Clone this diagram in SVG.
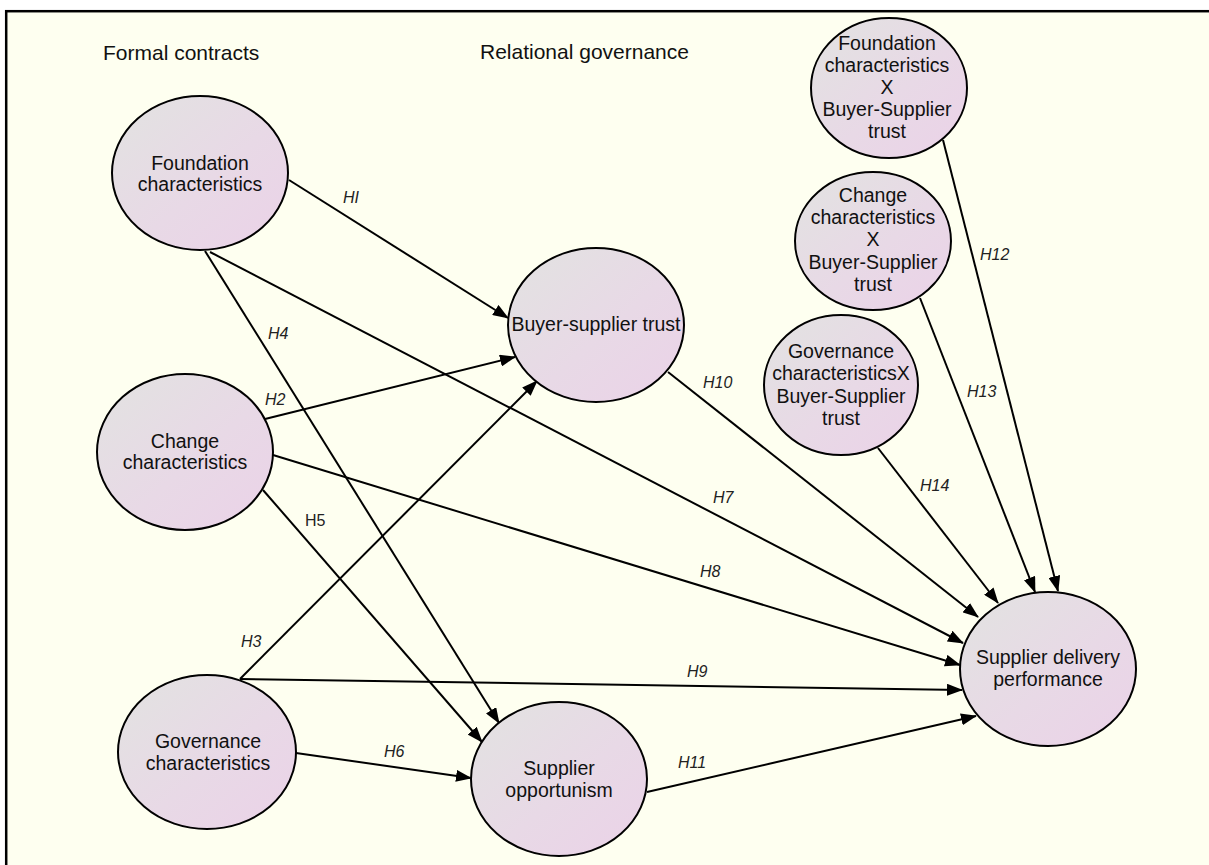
<svg xmlns="http://www.w3.org/2000/svg" width="1209" height="865" viewBox="0 0 1209 865">
<defs>
<linearGradient id="nodeFill" x1="0" y1="0" x2="1" y2="1">
<stop offset="0" stop-color="#e2e3e1"/>
<stop offset="0.55" stop-color="#e8d9e6"/>
<stop offset="1" stop-color="#ebd2e8"/>
</linearGradient>
<marker id="arrow" markerUnits="userSpaceOnUse" viewBox="0 0 16 12" markerWidth="16" markerHeight="12" refX="15" refY="6" orient="auto">
<path d="M0,0 L16,6 L0,12 z" fill="#000"/>
</marker>
<style>
.node ellipse{fill:url(#nodeFill);stroke:#000;stroke-width:2}
.node text{font-family:"Liberation Sans",Arial,sans-serif;font-size:19.5px;fill:#111;text-anchor:middle}
.head{font-family:"Liberation Sans",Arial,sans-serif;font-size:21px;fill:#111}
.edge line{stroke:#000;stroke-width:2;marker-end:url(#arrow)}
.lbl{font-family:"Liberation Sans",Arial,sans-serif;font-size:16px;font-style:italic;fill:#222}
.lbl.up{font-style:normal}
</style>
</defs>
<rect x="0" y="0" width="1209" height="865" fill="#ffffff"/>
<rect x="6.2" y="11.2" width="1220" height="870" fill="#fefff0" stroke="#000" stroke-width="2.5"/>
<text class="head" x="103" y="60">Formal contracts</text>
<text class="head" x="480" y="59">Relational governance</text>
<g id="connectors" class="edge">
<line x1="289" y1="180" x2="508" y2="318"/>
<line x1="265" y1="419" x2="515" y2="357"/>
<line x1="240" y1="679" x2="537" y2="381"/>
<line x1="205" y1="251" x2="499" y2="723"/>
<line x1="263" y1="490" x2="482" y2="742"/>
<line x1="296" y1="753" x2="471" y2="778"/>
<line x1="210" y1="252" x2="963" y2="643"/>
<line x1="273" y1="455" x2="960" y2="665"/>
<line x1="240" y1="679" x2="962" y2="690"/>
<line x1="668" y1="372" x2="978" y2="617"/>
<line x1="647" y1="792" x2="976" y2="716"/>
<line x1="943" y1="140" x2="1058" y2="591"/>
<line x1="920" y1="298" x2="1035" y2="592"/>
<line x1="878" y1="448" x2="998" y2="603"/>
<text class="lbl" x="343" y="203">HI</text>
<text class="lbl" x="265" y="405">H2</text>
<text class="lbl" x="241" y="647">H3</text>
<text class="lbl" x="268" y="339">H4</text>
<text class="lbl up" x="305" y="526">H5</text>
<text class="lbl" x="384" y="757">H6</text>
<text class="lbl" x="713" y="503">H7</text>
<text class="lbl" x="700" y="577">H8</text>
<text class="lbl" x="687" y="677">H9</text>
<text class="lbl" x="703" y="388">H10</text>
<text class="lbl" x="678" y="768">H11</text>
<text class="lbl" x="980" y="260">H12</text>
<text class="lbl" x="967" y="397">H13</text>
<text class="lbl" x="920" y="491">H14</text>
</g>
<g id="foundation" class="node">
<ellipse cx="200" cy="173" rx="88" ry="77"/>
<text x="200" y="170">Foundation</text>
<text x="200" y="191">characteristics</text>
</g>
<g id="change" class="node">
<ellipse cx="185" cy="452" rx="88" ry="78"/>
<text x="185" y="448">Change</text>
<text x="185" y="469">characteristics</text>
</g>
<g id="governance" class="node">
<ellipse cx="207" cy="752" rx="89" ry="77"/>
<text x="208" y="748">Governance</text>
<text x="208" y="770">characteristics</text>
</g>
<g id="trust" class="node">
<ellipse cx="596" cy="325" rx="88" ry="77"/>
<text x="596" y="331">Buyer-supplier trust</text>
</g>
<g id="opportunism" class="node">
<ellipse cx="559" cy="779" rx="88" ry="77"/>
<text x="559" y="775">Supplier</text>
<text x="559" y="797">opportunism</text>
</g>
<g id="performance" class="node">
<ellipse cx="1048" cy="669" rx="88" ry="77"/>
<text x="1048" y="664">Supplier delivery</text>
<text x="1048" y="686">performance</text>
</g>
<g id="foundation-x-trust" class="node">
<ellipse cx="889" cy="88" rx="78" ry="70"/>
<text x="887" y="50">Foundation</text>
<text x="887" y="72">characteristics</text>
<text x="887" y="94">X</text>
<text x="887" y="116">Buyer-Supplier</text>
<text x="887" y="138">trust</text>
</g>
<g id="change-x-trust" class="node">
<ellipse cx="873" cy="241" rx="78" ry="69"/>
<text x="873" y="202">Change</text>
<text x="873" y="224">characteristics</text>
<text x="873" y="246">X</text>
<text x="873" y="269">Buyer-Supplier</text>
<text x="873" y="291">trust</text>
</g>
<g id="governance-x-trust" class="node">
<ellipse cx="841" cy="385" rx="77" ry="70"/>
<text x="841" y="358">Governance</text>
<text x="841" y="380">characteristicsX</text>
<text x="841" y="403">Buyer-Supplier</text>
<text x="841" y="425">trust</text>
</g>
</svg>
